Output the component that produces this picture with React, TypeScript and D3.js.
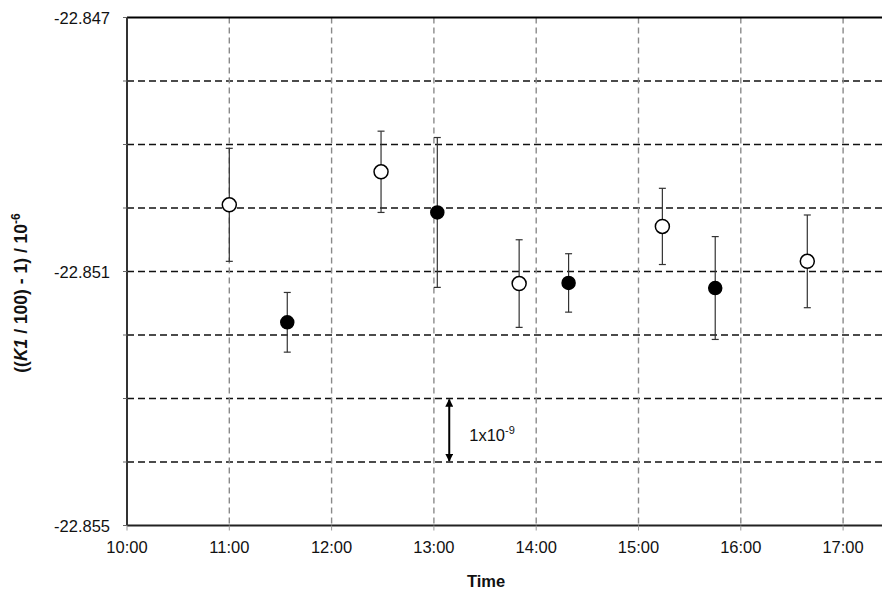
import React, { useRef, useEffect } from 'react';
import * as d3 from 'd3';

// measurement times (hh:mm) and values
const times = ['11:00', '11:34', '12:29', '13:02', '13:50', '14:19', '15:14', '15:45', '16:39'];
const values = [-22.84995, -22.8518, -22.84943, -22.85007, -22.85119, -22.85118, -22.85029, -22.85126, -22.85084];
const errors = [0.00089, 0.00047, 0.00064, 0.00118, 0.00069, 0.00046, 0.0006, 0.00081, 0.00073];
const filled = [false, true, false, true, false, true, false, true, false];

const hourTicks = ['10:00', '11:00', '12:00', '13:00', '14:00', '15:00', '16:00', '17:00'];
const yLabelTicks = [-22.847, -22.851, -22.855];
const yGrid = [-22.848, -22.849, -22.85, -22.851, -22.852, -22.853, -22.854];

// scale bar annotation
const arrowTime = '13:09';
const arrowRange = [-22.853, -22.854];

const toDate = (s: string) => {
    const [h, m] = s.split(':').map(Number);
    return new Date(2000, 0, 1, h, m);
};

const App = () => {
    const svgRef = useRef<SVGSVGElement>(null);

    useEffect(() => {
        const svg = d3.select(svgRef.current);
        svg.selectAll('*').remove();

        const left = 127, top = 17.5, bottom = 525.5;
        const hourW = 102.3;
        const right = left + hourW * 7.4;

        const x = d3.scaleTime()
            .domain([toDate('10:00'), toDate('17:24')])
            .range([left, right]);
        const y = d3.scaleLinear()
            .domain([-22.855, -22.847])
            .range([bottom, top]);

        const font = 'Liberation Sans, Arial, sans-serif';

        // horizontal grid
        svg.append('g')
            .selectAll('line')
            .data(yGrid)
            .join('line')
            .attr('x1', left).attr('x2', right)
            .attr('y1', d => y(d)).attr('y2', d => y(d))
            .attr('stroke', '#111')
            .attr('stroke-width', 1.4)
            .attr('stroke-dasharray', '7,4');

        // vertical grid
        svg.append('g')
            .selectAll('line')
            .data(hourTicks.slice(1))
            .join('line')
            .attr('x1', d => x(toDate(d))).attr('x2', d => x(toDate(d)))
            .attr('y1', top).attr('y2', bottom)
            .attr('stroke', '#8a8a8a')
            .attr('stroke-width', 1.4)
            .attr('stroke-dasharray', '6,4');

        // axes frame
        svg.append('line')
            .attr('x1', left).attr('x2', right).attr('y1', top).attr('y2', top)
            .attr('stroke', '#000').attr('stroke-width', 2);
        svg.append('line')
            .attr('x1', left).attr('x2', right).attr('y1', bottom).attr('y2', bottom)
            .attr('stroke', '#222').attr('stroke-width', 2);
        svg.append('line')
            .attr('x1', left).attr('x2', left).attr('y1', top).attr('y2', bottom)
            .attr('stroke', '#333').attr('stroke-width', 2);

        // left ticks
        svg.append('g')
            .selectAll('line')
            .data([-22.847, ...yGrid, -22.855])
            .join('line')
            .attr('x1', left - 4).attr('x2', left)
            .attr('y1', d => y(d)).attr('y2', d => y(d))
            .attr('stroke', '#666').attr('stroke-width', 1);

        // bottom ticks
        svg.append('g')
            .selectAll('line')
            .data(hourTicks)
            .join('line')
            .attr('x1', d => x(toDate(d))).attr('x2', d => x(toDate(d)))
            .attr('y1', bottom).attr('y2', bottom + 5)
            .attr('stroke', '#999').attr('stroke-width', 1);

        // y tick labels
        svg.append('g')
            .selectAll('text')
            .data(yLabelTicks)
            .join('text')
            .attr('x', left - 17)
            .attr('y', d => y(d) + 6)
            .attr('text-anchor', 'end')
            .attr('font-family', font)
            .attr('font-size', '16.5px')
            .attr('fill', '#111')
            .text(d => d3.format('.3f')(d).replace('−', '-'));

        // x tick labels
        svg.append('g')
            .selectAll('text')
            .data(hourTicks)
            .join('text')
            .attr('x', d => x(toDate(d)))
            .attr('y', bottom + 27)
            .attr('text-anchor', 'middle')
            .attr('font-family', font)
            .attr('font-size', '16.5px')
            .attr('fill', '#111')
            .text(d => d);

        // axis titles
        svg.append('text')
            .attr('x', 486)
            .attr('y', 587)
            .attr('text-anchor', 'middle')
            .attr('font-family', font)
            .attr('font-size', '16.5px')
            .attr('font-weight', 'bold')
            .attr('fill', '#111')
            .text('Time');

        const yt = svg.append('text')
            .attr('transform', 'translate(27,293) rotate(-90)')
            .attr('text-anchor', 'middle')
            .attr('font-family', font)
            .attr('font-size', '17.5px')
            .attr('font-weight', 'bold')
            .attr('fill', '#111');
        yt.append('tspan').text('((');
        yt.append('tspan').attr('font-style', 'italic').text('K1');
        yt.append('tspan').text(' / 100) - 1) / 10');
        yt.append('tspan').attr('font-size', '12px').attr('dy', -7).text('-6');

        // error bars
        const pts = times.map((t, i) => ({ t: toDate(t), v: values[i], e: errors[i], f: filled[i] }));
        const eb = svg.append('g').attr('stroke', '#333').attr('stroke-width', 1.2);
        pts.forEach(p => {
            const cx = x(p.t);
            eb.append('line')
                .attr('x1', cx).attr('x2', cx)
                .attr('y1', y(p.v + p.e)).attr('y2', y(p.v - p.e));
            [p.v + p.e, p.v - p.e].forEach(v => {
                eb.append('line')
                    .attr('x1', cx - 3.5).attr('x2', cx + 3.5)
                    .attr('y1', y(v)).attr('y2', y(v));
            });
        });

        // markers
        svg.append('g')
            .selectAll('circle')
            .data(pts)
            .join('circle')
            .attr('cx', d => x(d.t))
            .attr('cy', d => y(d.v))
            .attr('r', d => d.f ? 6.5 : 7)
            .attr('fill', d => d.f ? '#000' : '#fff')
            .attr('stroke', '#000')
            .attr('stroke-width', 1.5);

        // scale bar arrow
        const defs = svg.append('defs');
        defs.append('marker')
            .attr('id', 'ah')
            .attr('viewBox', '0 0 10 10')
            .attr('refX', 9).attr('refY', 5)
            .attr('markerWidth', 4).attr('markerHeight', 4)
            .attr('orient', 'auto-start-reverse')
            .append('path')
            .attr('d', 'M0,0 L10,5 L0,10 z')
            .attr('fill', '#000');
        const ax = x(toDate(arrowTime));
        svg.append('line')
            .attr('x1', ax).attr('x2', ax)
            .attr('y1', y(arrowRange[0]) + 1).attr('y2', y(arrowRange[1]) - 1)
            .attr('stroke', '#000').attr('stroke-width', 2)
            .attr('marker-start', 'url(#ah)')
            .attr('marker-end', 'url(#ah)');
        const lab = svg.append('text')
            .attr('x', ax + 20)
            .attr('y', (y(arrowRange[0]) + y(arrowRange[1])) / 2 + 11)
            .attr('font-family', font)
            .attr('font-size', '16.5px')
            .attr('fill', '#111');
        lab.append('tspan').text('1x10');
        lab.append('tspan').attr('font-size', '11px').attr('dy', -7).text('-9');
    }, []);

    return (
        <svg ref={svgRef} width={882} height={591}
            style={{ position: 'absolute', left: 0, top: 0, background: '#fff' }} />
    );
};

export default App;
